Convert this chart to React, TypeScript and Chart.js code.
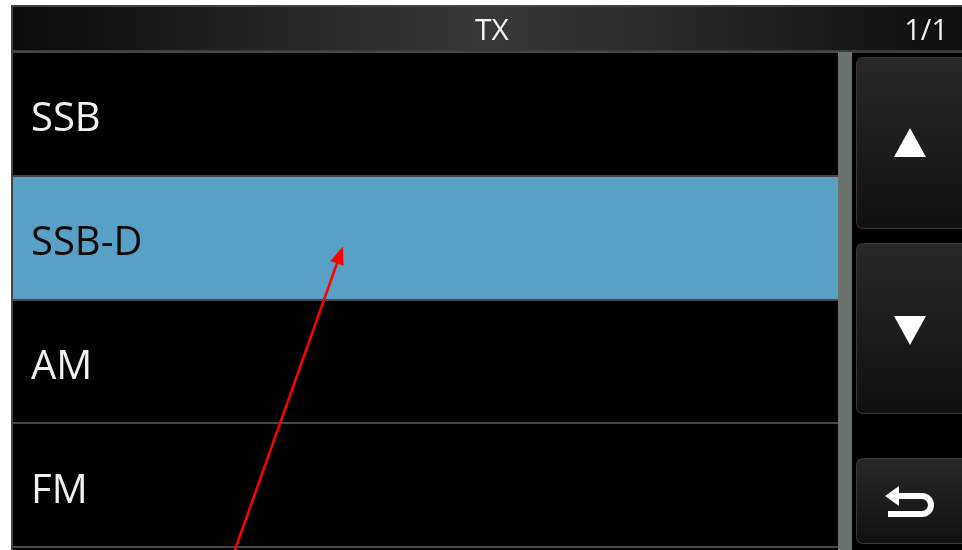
import React, { useEffect, useRef } from "react";
import { Chart, registerables } from "chart.js";

Chart.register(...registerables);

// ---- data ----
const modes = ["SSB", "SSB-D", "AM", "FM"];
const rowFill = [1, 1, 1, 1];
const selectedMode = "SSB-D";
const headerTitle = "TX";
const pageLabel = "1/1";
// arrow annotation in scale units (x: fraction of value axis, y: category index)
const arrowFrom = { x: 0.269, y: 3.524 };
const arrowTo = { x: 0.4, y: 1.071 };

const BLUE = "#59a0c7";
const FONT = '"Open Sans", "DejaVu Sans", sans-serif';

function roundRect(ctx: CanvasRenderingContext2D, x: number, y: number, w: number, h: number, r: number) {
  ctx.beginPath();
  ctx.moveTo(x + r, y);
  ctx.lineTo(x + w - r, y);
  ctx.quadraticCurveTo(x + w, y, x + w, y + r);
  ctx.lineTo(x + w, y + h - r);
  ctx.quadraticCurveTo(x + w, y + h, x + w - r, y + h);
  ctx.lineTo(x + r, y + h);
  ctx.quadraticCurveTo(x, y + h, x, y + h - r);
  ctx.lineTo(x, y + r);
  ctx.quadraticCurveTo(x, y, x + r, y);
  ctx.closePath();
}

function drawButton(ctx: CanvasRenderingContext2D, y0: number, y1: number) {
  const x = 856.5;
  const g = ctx.createLinearGradient(0, y0, 0, y1);
  g.addColorStop(0, "#282828");
  g.addColorStop(1, "#111111");
  roundRect(ctx, x, y0 + 0.5, 120, y1 - y0, 7);
  ctx.fillStyle = g;
  ctx.fill();
  ctx.strokeStyle = "#3a3a3a";
  ctx.lineWidth = 1;
  ctx.stroke();
}

const screenPlugin = {
  id: "screen",
  beforeDraw(chart: any) {
    const ctx: CanvasRenderingContext2D = chart.ctx;
    const W = chart.width;
    const H = chart.height;
    const area = chart.chartArea;
    ctx.save();
    ctx.fillStyle = "#ffffff";
    ctx.fillRect(0, 0, W, H);
    // screen frame
    ctx.fillStyle = "#444444";
    ctx.fillRect(11, 5, W - 11, H - 5);
    ctx.fillStyle = "#000000";
    ctx.fillRect(13, 7, W - 13, H - 7);
    // header
    const hg = ctx.createLinearGradient(13, 0, W, 0);
    hg.addColorStop(0, "#0b0b0b");
    hg.addColorStop(0.5, "#393939");
    hg.addColorStop(1, "#0e0e0e");
    ctx.fillStyle = hg;
    ctx.fillRect(13, 7, W - 13, 43);
    ctx.fillStyle = "#3c3c3c";
    ctx.fillRect(13, 50, W - 13, 3);
    // scroll bar
    ctx.fillStyle = "#6b716d";
    ctx.fillRect(area.right, area.top, 14, H - area.top);
    // buttons
    drawButton(ctx, 57, 228);
    drawButton(ctx, 243, 413);
    drawButton(ctx, 458, 543);
    ctx.fillStyle = "#ffffff";
    ctx.beginPath();
    ctx.moveTo(894, 157);
    ctx.lineTo(926, 157);
    ctx.lineTo(910, 128);
    ctx.closePath();
    ctx.fill();
    ctx.beginPath();
    ctx.moveTo(894, 316);
    ctx.lineTo(926, 316);
    ctx.lineTo(910, 345);
    ctx.closePath();
    ctx.fill();
    // back arrow
    ctx.strokeStyle = "#ffffff";
    ctx.lineWidth = 6;
    ctx.lineCap = "butt";
    ctx.beginPath();
    ctx.moveTo(896, 496);
    ctx.lineTo(922, 496);
    ctx.arc(922, 505, 9, -Math.PI / 2, Math.PI / 2);
    ctx.lineTo(888, 514);
    ctx.stroke();
    ctx.beginPath();
    ctx.moveTo(885, 496);
    ctx.lineTo(899, 486);
    ctx.lineTo(899, 506);
    ctx.closePath();
    ctx.fill();
    ctx.restore();
  },
  afterDraw(chart: any) {
    const ctx: CanvasRenderingContext2D = chart.ctx;
    ctx.save();
    ctx.fillStyle = "#f2f2f2";
    ctx.textBaseline = "middle";
    ctx.font = `30px ${FONT}`;
    ctx.textAlign = "center";
    ctx.fillText(headerTitle, 492, 31);
    ctx.font = `29px ${FONT}`;
    ctx.textAlign = "right";
    ctx.fillText(pageLabel, 948, 32);
    // red annotation arrow
    const xs = chart.scales.x;
    const ys = chart.scales.y;
    const x0 = xs.getPixelForValue(arrowFrom.x);
    const y0 = ys.getPixelForValue(arrowFrom.y);
    const x1 = xs.getPixelForValue(arrowTo.x);
    const y1 = ys.getPixelForValue(arrowTo.y);
    const dx = x1 - x0;
    const dy = y1 - y0;
    const len = Math.hypot(dx, dy);
    const ux = dx / len;
    const uy = dy / len;
    const hl = 18;
    const hw = 7;
    const bx = x1 - ux * hl;
    const by = y1 - uy * hl;
    ctx.strokeStyle = "#ff0000";
    ctx.fillStyle = "#ff0000";
    ctx.lineWidth = 2.5;
    ctx.beginPath();
    ctx.moveTo(x0, y0);
    ctx.lineTo(bx + ux * 2, by + uy * 2);
    ctx.stroke();
    ctx.beginPath();
    ctx.moveTo(x1, y1);
    ctx.lineTo(bx - uy * hw, by + ux * hw);
    ctx.lineTo(bx + uy * hw, by - ux * hw);
    ctx.closePath();
    ctx.fill();
    ctx.restore();
  },
};

export default function App() {
  const ref = useRef<HTMLCanvasElement | null>(null);
  useEffect(() => {
    document.body.style.margin = "0";
    let chart: Chart | null = null;
    let cancelled = false;
    const build = () => {
      if (cancelled || !ref.current) return;
      chart = new Chart(ref.current, {
        type: "bar",
        data: {
          labels: modes,
          datasets: [
            {
              data: rowFill,
              backgroundColor: modes.map((m) => (m === selectedMode ? BLUE : "#000000")),
              borderWidth: 0,
              categoryPercentage: 1,
              barPercentage: 1,
            },
          ],
        },
        options: {
          indexAxis: "y",
          animation: false,
          responsive: false,
          events: [],
          layout: { padding: { top: 52, bottom: 3, right: 124, left: 0 } },
          plugins: {
            legend: { display: false },
            tooltip: { enabled: false },
            title: { display: false },
          },
          scales: {
            x: { display: false, min: 0, max: 1 },
            y: {
              offset: true,
              afterFit: (s: any) => {
                s.width = 13;
                s.paddingTop = 0;
                s.paddingBottom = 0;
              },
              border: { display: false },
              grid: { z: 1, offset: true, color: "#464646", lineWidth: 2, drawTicks: false },
              ticks: {
                z: 2,
                mirror: true,
                padding: 18,
                labelOffset: 6,
                font: { size: 40, family: FONT },
                color: (c: any) => (modes[c.index] === selectedMode ? "#0a0a0a" : "#f0f0f0"),
              },
            },
          },
        },
        plugins: [screenPlugin],
      });
    };
    const fl = (document as any).fonts;
    if (fl && fl.load) {
      Promise.all([fl.load(`40px "Open Sans"`)]).then(build, build);
    } else build();
    return () => {
      cancelled = true;
      if (chart) chart.destroy();
    };
  }, []);
  return <canvas ref={ref} width={962} height={550} style={{ display: "block" }} />;
}
